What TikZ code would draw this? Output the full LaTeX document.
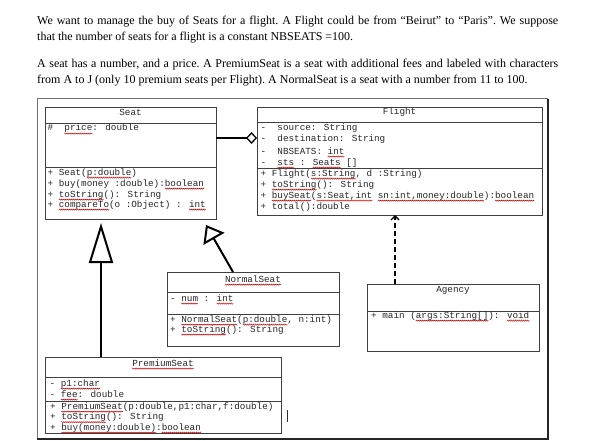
\documentclass[tikz,border=0pt]{standalone}
\usepackage{fontspec}
\setmainfont{Liberation Serif}
\newfontfamily\umlmono{Liberation Mono}
\usetikzlibrary{arrows.meta,decorations.pathmorphing}
\newsavebox\sqbox
\newcommand\sq[1]{\sbox\sqbox{#1}\rlap{\tikz[baseline=0pt,x=1pt,y=1pt]{\useasboundingbox (0,0); \draw[red!80!black, line width=0.45pt, decorate, decoration={zigzag, segment length=2pt, amplitude=0.6pt}] (0,-2.6) -- (\the\wd\sqbox,-2.6);}}\usebox\sqbox}
\tikzset{
  box/.style={draw=black!75, line width=0.8pt, anchor=north west, inner sep=0pt, outer sep=0pt},
  sepline/.style={draw=black!75, line width=0.8pt},
  txt/.style={font=\umlmono\fontsize{9.3}{10.7}\selectfont, inner sep=0pt, anchor=base west, text=black!85},
  ttl/.style={txt, anchor=base},
  para/.style={font=\fontsize{12}{16}\selectfont\frenchspacing, inner sep=0pt, anchor=base west},
  inherit/.style={line width=2pt, -{Triangle[open, length=#1]}},
  aggr/.style={line width=1.3pt, -{Diamond[open, length=11pt, width=12pt]}},
  dep/.style={line width=1.4pt, dash pattern=on 5pt off 3pt, -{Straight Barb[length=4pt, width=8pt]}}
}
\begin{document}
\begin{tikzpicture}[x=1pt, y=-1pt]
\useasboundingbox (0,0) rectangle (594,441);
% text
\node[para] (l1) at (37,25) {\makebox[521pt][s]{We want to manage the buy of Seats for a flight. A Flight could be from “Beirut” to “Paris”. We suppose}};
\node[para] (l2) at (37,41) {\makebox[316pt][s]{that the number of seats for a flight is a constant NBSEATS =100.}};
\node[para] (l3) at (37,68) {\makebox[521pt][s]{A seat has a number, and a price. A PremiumSeat is a seat with additional fees and labeled with characters}};
\node[para] (l4) at (37,84) {from A to J (only 10 premium seats per Flight). A NormalSeat is a seat with a number from 11 to 100.};
% frame
\draw[black!55, line width=1pt] (37,439) -- (37,99) -- (548,99);
\draw[black!85, line width=1.3pt] (548,99) -- (548,439) -- (37,439);
% Seat
\node[box, minimum width=171pt, minimum height=112pt] (seat) at (45,107) {};
\draw[sepline] (45,123) -- (216,123);
\draw[sepline] (45,167) -- (216,167);
\node[ttl] (seatT) at (130.5,116) {Seat};
\node[txt] (seatA) at (47.5,131) {\#~~\sq{price}: double};
\node[txt] (seatM1) at (47.5,175) {+ Seat(\sq{p:double})};
\node[txt] (seatM2) at (47.5,186) {+ buy(money :double):\sq{boolean}};
\node[txt] (seatM3) at (47.5,197) {+ \sq{toString}(): String};
\node[txt] (seatM4) at (47.5,207) {+ \sq{compareTo}(o :Object) : \sq{int}};
% Flight
\node[box, minimum width=285pt, minimum height=108pt] (flight) at (257,107) {};
\draw[sepline] (257,122) -- (542,122);
\draw[sepline] (257,168) -- (542,168);
\node[ttl] (flightT) at (399.5,115) {Flight};
\node[txt] (flA1) at (260.5,131) {-~~source: String};
\node[txt] (flA2) at (260.5,142) {-~~destination: String};
\node[txt] (flA3) at (260.5,154) {-~~NBSEATS: \sq{int}};
\node[txt] (flA4) at (260.5,165) {-~~\sq{sts} : \sq{Seats} []};
\node[txt] (flM1) at (260.5,176) {+ Flight(\sq{s:String}, d :String)};
\node[txt] (flM2) at (260.5,187) {+ \sq{toString}(): String};
\node[txt] (flM3) at (260.5,198) {+ \sq{buySeat}(\sq{s:Seat,int} \sq{sn:int,money:double}):\sq{boolean}};
\node[txt] (flM4) at (260.5,209) {+ total():double};
% NormalSeat
\node[box, minimum width=172pt, minimum height=74pt] (normal) at (167,272) {};
\draw[sepline] (167,292) -- (339,292);
\draw[sepline] (167,314) -- (339,314);
\node[ttl] (normalT) at (253,282) {\sq{NormalSeat}};
\node[txt] (nA1) at (170,301) {- \sq{num} : \sq{int}};
\node[txt] (nM1) at (170,322) {+ \sq{NormalSeat}(\sq{p:double}, n:int)};
\node[txt] (nM2) at (170,332) {+ \sq{toString}(): String};
% Agency
\node[box, minimum width=172pt, minimum height=67pt] (agency) at (367,284) {};
\draw[sepline] (367,311) -- (539,311);
\node[ttl] (agencyT) at (453,292) {Agency};
\node[txt] (aM1) at (371,318) {+ main (\sq{args:String[]}): \sq{void}};
% PremiumSeat
\node[box, minimum width=236pt, minimum height=76pt] (premium) at (45,357) {};
\draw[sepline] (45,377) -- (281,377);
\draw[sepline] (45,401) -- (281,401);
\node[ttl] (premT) at (163,366) {\sq{PremiumSeat}};
\node[txt] (pA1) at (49.5,386) {- \sq{p1:char}};
\node[txt] (pA2) at (49.5,397) {- \sq{fee}: double};
\node[txt] (pM1) at (50,409) {+ \sq{PremiumSeat}(p:double,p1:char,f:double)};
\node[txt] (pM2) at (50,419.5) {+ \sq{toString}(): String};
\node[txt] (pM3) at (50,430) {+ \sq{buy(money:double)}:\sq{boolean}};
% cursor mark
\draw[black!80, line width=0.6pt] (287,410) -- (287,422);
% connectors
\coordinate (tipP) at (101,223);
\coordinate (tipN) at (206,225);
\draw[inherit={40pt, width=24pt}] ([xshift=56pt]premium.north west) -- (tipP);
\draw[inherit={16pt, width=24pt}] ([xshift=66pt]normal.north west) -- (tipN);
\draw[aggr] ([yshift=-31pt]seat.north east) coordinate (a1) -- (a1 -| flight.west);
\draw[dep] ([xshift=28pt]agency.north west) coordinate (d1) -- (d1 |- flight.south);
\end{tikzpicture}
\end{document}
